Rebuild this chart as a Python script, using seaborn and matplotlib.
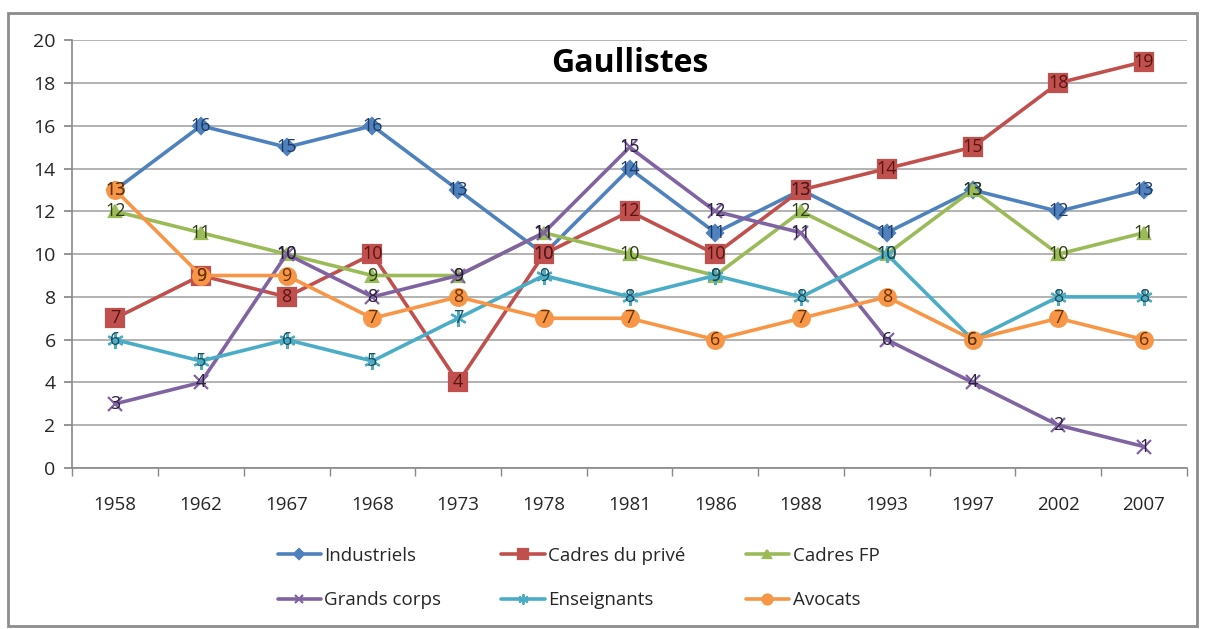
import matplotlib
matplotlib.use("Agg")
import matplotlib.pyplot as plt
from matplotlib.patches import Rectangle
import pandas as pd
import seaborn as sns

years = ["1958", "1962", "1967", "1968", "1973", "1978", "1981",
         "1986", "1988", "1993", "1997", "2002", "2007"]
industriels = [13, 16, 15, 16, 13, 10, 14, 11, 13, 11, 13, 12, 13]
cadres_prive = [7, 9, 8, 10, 4, 10, 12, 10, 13, 14, 15, 18, 19]
cadres_fp = [12, 11, 10, 9, 9, 11, 10, 9, 12, 10, 13, 10, 11]
grands_corps = [3, 4, 10, 8, 9, 11, 15, 12, 11, 6, 4, 2, 1]
enseignants = [6, 5, 6, 5, 7, 9, 8, 9, 8, 10, 6, 8, 8]
avocats = [13, 9, 9, 7, 8, 7, 7, 6, 7, 8, 6, 7, 6]

series = {
    "Industriels": industriels,
    "Cadres du privé": cadres_prive,
    "Cadres FP": cadres_fp,
    "Grands corps": grands_corps,
    "Enseignants": enseignants,
    "Avocats": avocats,
}
colors = {
    "Industriels": "#4F81BD",
    "Cadres du privé": "#C0504D",
    "Cadres FP": "#9BBB59",
    "Grands corps": "#8064A2",
    "Enseignants": "#4BACC6",
    "Avocats": "#F79646",
}
label_colors = {
    "Industriels": "#1F3A66",
    "Cadres du privé": "#5A1412",
    "Cadres FP": "#2E3D12",
    "Grands corps": "#2A1F40",
    "Enseignants": "#1C4E5C",
    "Avocats": "#6B3300",
}
markers = {
    "Industriels": "D",
    "Cadres du privé": "s",
    "Cadres FP": "^",
    "Grands corps": "x",
    "Enseignants": (6, 2, 0),
    "Avocats": "o",
}
msizes = {
    "Industriels": 8, "Cadres du privé": 13, "Cadres FP": 9,
    "Grands corps": 10, "Enseignants": 12, "Avocats": 12,
}

df = pd.DataFrame([
    {"annee": y, "serie": name, "valeur": v}
    for name, vals in series.items() for y, v in zip(years, vals)
])

sns.set_theme(style="white")
plt.rcParams["font.family"] = ["Open Sans", "DejaVu Sans"]

fig = plt.figure(figsize=(12.05, 6.29), dpi=100)
ax = fig.add_axes([0.060, 0.256, 0.925, 0.680])

for name in series:
    sub = df[df["serie"] == name]
    sns.lineplot(data=sub, x="annee", y="valeur", ax=ax, color=colors[name],
                 linewidth=2.6, marker=markers[name], markersize=msizes[name],
                 markeredgecolor=colors[name], markeredgewidth=1.6,
                 label=name, sort=False)

for name, vals in series.items():
    for i, v in enumerate(vals):
        ax.text(i, v, str(v), ha="center", va="center", fontsize=13,
                color=label_colors[name], zorder=10)

ax.set_xlim(-0.5, len(years) - 0.5)
ax.set_ylim(0, 20)
ax.set_yticks(range(0, 21, 2))
ax.set_xlabel("")
ax.set_ylabel("")
ax.yaxis.grid(True, color="#A6A6A6", linewidth=1.2)
ax.xaxis.grid(False)
ax.set_axisbelow(True)
for side in ["top", "right"]:
    ax.spines[side].set_visible(False)
for side in ["left", "bottom"]:
    ax.spines[side].set_color("#888888")
    ax.spines[side].set_linewidth(1.2)
ax.set_xticks([i - 0.5 for i in range(len(years) + 1)], minor=True)
ax.tick_params(axis="x", which="minor", length=6, color="#888888",
               direction="out", bottom=True)
ax.tick_params(axis="x", which="major", length=0, labelsize=13.5, pad=20)
ax.tick_params(axis="y", length=6, color="#888888", direction="out",
               left=True, labelsize=14, pad=6)

ax.text(0.5, 0.945, "Gaullistes", transform=ax.transAxes, ha="center",
        va="center", fontsize=23, fontweight="bold", color="black")

handles, labels = ax.get_legend_handles_labels()
order = [0, 3, 1, 4, 2, 5]
ax.legend([handles[i] for i in order], [labels[i] for i in order],
          ncol=3, loc="center", bbox_to_anchor=(0.480, 0.081),
          bbox_transform=fig.transFigure, frameon=False, fontsize=13.5,
          handlelength=2.3, handletextpad=0.2, columnspacing=3.2,
          labelspacing=1.4, markerscale=0.6)

fig.patches.append(Rectangle((0.007, 0.004), 0.986, 0.976,
                             transform=fig.transFigure, fill=False,
                             edgecolor="#8C8C8C", linewidth=2))

fig.savefig("out.png", dpi=100, facecolor="white")
